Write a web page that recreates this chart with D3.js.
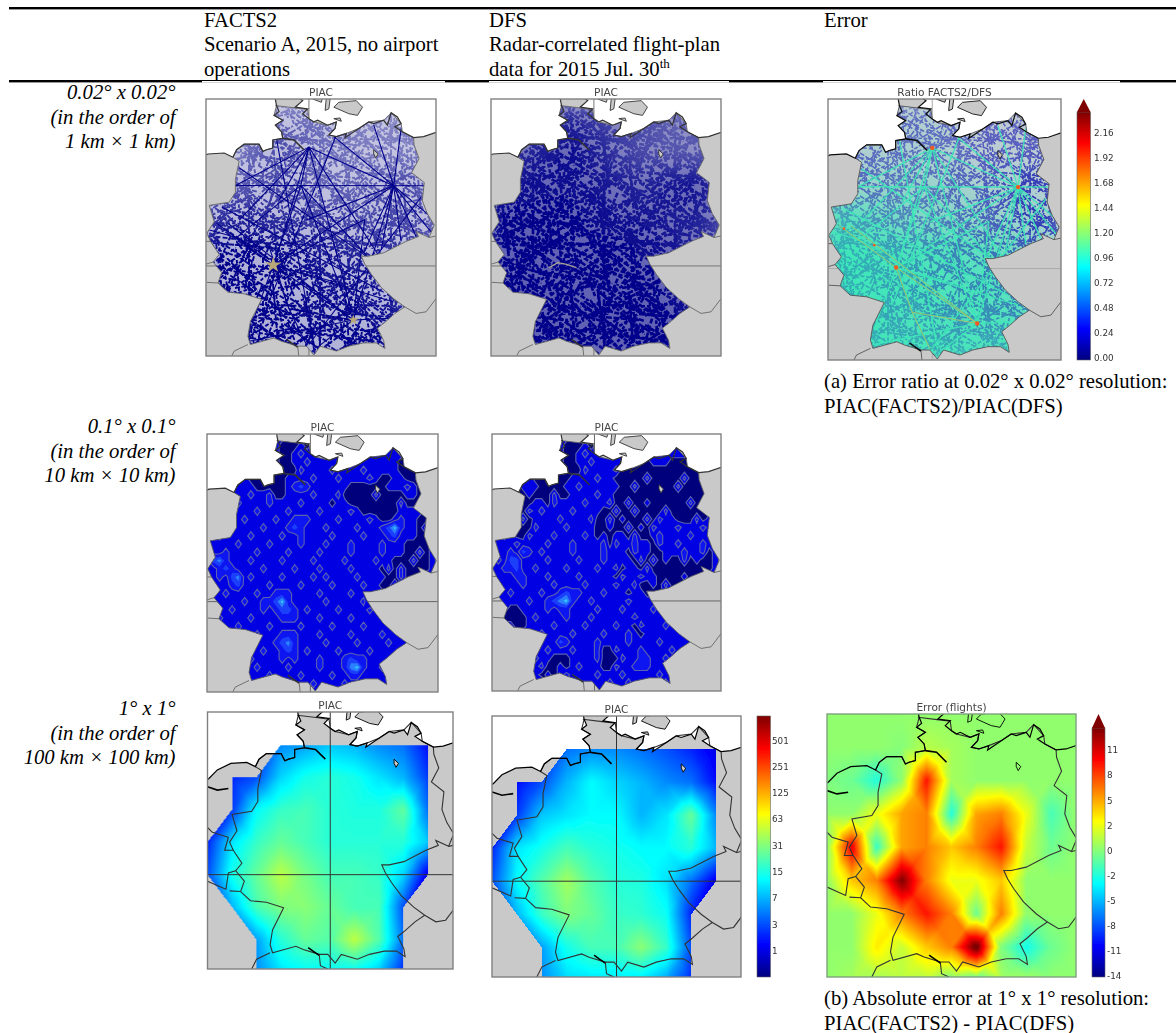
<!DOCTYPE html>
<html>
<head>
<meta charset="utf-8">
<script src="https://cdn.jsdelivr.net/npm/d3@7"></script>
<style>
  html, body { margin: 0; padding: 0; background: #fff; }
  svg { display: block; }
  .serif { font-family: "Liberation Serif", serif; fill: #000; }
  .sans { font-family: "DejaVu Sans", sans-serif; fill: #444; }
</style>
</head>
<body>
<div id="chart"></div>
<script>
const headers = [
  { x: 204, lines: ["FACTS2", "Scenario A, 2015, no airport", "operations"] },
  { x: 489, lines: ["DFS", "Radar-correlated flight-plan", "data for 2015 Jul. 30"] },
  { x: 824, lines: ["Error"] }
];
const rowLabels = [
  { y: 99, lines: ["0.02° x 0.02°", "(in the order of", "1 km × 1 km)"] },
  { y: 433, lines: ["0.1° x 0.1°", "(in the order of", "10 km × 10 km)"] },
  { y: 715, lines: ["1° x 1°", "(in the order of", "100 km × 100 km)"] }
];
const captions = [
  { y: 388, lines: ["(a) Error ratio at 0.02° x 0.02° resolution:", "PIAC(FACTS2)/PIAC(DFS)"] },
  { y: 1005, lines: ["(b) Absolute error at 1° x 1° resolution:", "PIAC(FACTS2) - PIAC(DFS)"] }
];

// map outlines, lon/lat
const germany = [[8.65,54.9],[9.42,54.83],[9.95,54.78],[10.0,54.5],[10.2,54.4],[10.75,54.3],[11.1,54.4],[11.05,54.2],[10.8,54.0],[11.1,53.95],[11.5,54.05],[12.0,54.2],[12.4,54.4],[13.0,54.45],[13.3,54.68],[13.7,54.35],[13.75,54.1],[14.2,53.92],[14.22,53.7],[14.42,53.28],[14.12,52.85],[14.63,52.55],[14.55,52.0],[14.75,51.6],[15.03,51.25],[14.82,50.87],[14.3,51.05],[14.4,50.9],[13.9,50.75],[13.0,50.4],[12.4,50.3],[12.1,50.3],[12.25,50.05],[12.5,49.75],[12.9,49.35],[13.4,49.0],[13.85,48.75],[13.45,48.55],[13.05,48.28],[12.75,48.1],[13.0,47.72],[13.05,47.48],[12.7,47.65],[12.2,47.65],[11.6,47.55],[11.1,47.4],[10.45,47.55],[10.2,47.28],[9.9,47.55],[9.55,47.55],[8.9,47.7],[8.6,47.8],[7.65,47.6],[7.55,47.85],[7.65,48.3],[8.1,48.98],[7.4,49.15],[6.75,49.2],[6.35,49.48],[6.5,49.8],[6.15,50.12],[6.4,50.35],[6.05,50.75],[5.9,51.0],[6.2,51.35],[6.0,51.85],[6.8,51.95],[7.05,52.25],[7.05,52.65],[7.2,53.2],[6.95,53.32],[7.1,53.55],[7.4,53.72],[8.0,53.72],[8.15,53.5],[8.3,53.55],[8.55,53.6],[8.55,53.85],[8.95,53.9],[8.9,54.1],[8.65,54.3],[8.95,54.45],[8.6,54.6],[8.7,54.9]];
const northSeaCoast = [[4.8,52.85],[5.05,52.95],[5.4,53.22],[5.95,53.42],[6.6,53.45],[6.95,53.32],[7.1,53.55],[7.4,53.72],[8.0,53.72],[8.15,53.5],[8.3,53.55],[8.55,53.6],[8.55,53.85],[8.95,53.9],[8.9,54.1],[8.65,54.3],[8.95,54.45],[8.6,54.6],[8.8,54.72],[8.7,54.9],[8.65,55.1],[8.45,55.45],[8.2,55.6]];
const balticCoast = [[9.5,55.6],[9.7,55.4],[9.5,55.2],[9.75,55.05],[9.45,54.85],[9.95,54.8],[9.75,54.65],[10.0,54.5],[10.2,54.4],[10.35,54.45],[10.75,54.3],[11.1,54.4],[11.05,54.2],[10.8,54.0],[11.1,53.95],[11.5,54.05],[11.45,53.92],[12.0,54.2],[12.4,54.4],[12.6,54.35],[13.0,54.45],[13.15,54.3],[13.3,54.68],[13.55,54.55],[13.7,54.35],[13.45,54.25],[13.75,54.1],[14.2,53.92],[14.6,53.95],[15.5,54.18]];
const islands = [
  [[11.0,54.85],[11.6,54.65],[11.95,54.6],[12.15,54.85],[11.9,55.05],[11.2,55.0],[11.0,54.85]],
  [[10.65,54.75],[10.8,54.8],[10.85,55.1],[10.7,55.15],[10.65,54.75]],
  [[10.15,55.1],[10.5,55.0],[10.55,55.15],[10.2,55.3],[10.15,55.1]],
  [[12.6,53.55],[12.78,53.42],[12.68,53.3],[12.6,53.42],[12.6,53.55]],
  [[11.0,54.5],[11.3,54.42],[11.25,54.52],[11.0,54.5]]
];
const thickWater = [
  [[8.95,53.9],[9.4,53.85],[9.8,53.55]],
  [[9.1,47.76],[9.3,47.65],[9.55,47.52]],
  [[5.0,52.7],[5.4,52.6],[5.85,52.65]]
];
const otherBorders = [
  [[6.05,50.75],[5.7,50.75],[5.85,51.15],[5.2,51.3],[5.0,51.45]],
  [[6.15,50.12],[5.85,50.05],[5.75,49.55],[5.0,49.8]],
  [[6.35,49.48],[5.9,49.5]],
  [[7.55,47.6],[7.0,47.4],[6.8,47.1]],
  [[9.55,47.55],[9.6,47.2],[9.9,47.1]],
  [[14.82,50.87],[15.3,50.95]],
  [[13.85,48.75],[14.3,48.55],[14.7,48.6],[15.1,49.0]]
];

// main flight routes seen in the 0.02 deg panels, [lon, lat] to [lon, lat]
const routes = [
  [[10.0,53.63],[6.9,52.4]], [[10.0,53.63],[7.2,51.4]], [[10.0,53.63],[8.6,50.03]], [[10.0,53.63],[9.68,52.46]],
  [[10.0,53.63],[12.9,50.2]], [[10.0,53.63],[11.8,48.35]], [[10.0,53.63],[13.4,52.45]], [[10.0,53.63],[8.8,52.0]],
  [[6.8,52.46],[15.0,52.45]], [[9.68,52.46],[13.2,49.6]], [[9.68,52.46],[11.78,48.35]], [[9.68,52.46],[7.1,50.87]], [[9.68,52.46],[8.57,50.03]],
  [[13.4,52.45],[15.0,50.95]], [[13.4,52.45],[14.9,51.5]], [[13.4,52.45],[14.3,50.9]], [[13.4,52.45],[13.7,50.75]], [[13.4,52.45],[12.9,50.5]],
  [[13.4,52.45],[12.2,50.4]], [[13.4,52.45],[11.0,53.95]], [[13.4,52.45],[12.6,54.3]], [[13.4,52.45],[13.7,54.2]], [[13.4,52.45],[8.57,50.03]],
  [[13.4,52.45],[11.78,48.35]], [[13.4,52.45],[9.9,51.4]], [[8.57,50.03],[6.3,51.3]], [[8.57,50.03],[11.78,48.35]], [[8.57,50.03],[13.4,48.9]],
  [[8.57,50.03],[9.2,48.69]], [[8.57,50.03],[7.7,48.2]], [[8.57,50.03],[12.24,51.42]], [[8.57,50.03],[11.07,49.5]], [[6.77,51.29],[11.78,48.35]],
  [[11.78,48.35],[9.2,48.69]], [[11.78,48.35],[12.24,51.42]], [[11.78,48.35],[7.6,47.7]], [[11.78,48.35],[13.2,48.4]], [[11.78,48.35],[10.3,47.5]],
  [[7.1,50.87],[6.0,51.1]], [[7.1,50.87],[8.0,50.5]], [[9.2,48.69],[8.4,50.6]], [[9.2,48.69],[9.9,47.6]], [[6.5,51.8],[13.0,49.2]],
  [[7.2,53.0],[12.3,50.3]], [[8.6,54.3],[10.2,47.6]], [[11.1,54.0],[8.4,48.9]], [[14.5,52.1],[10.0,47.6]]
];
const orangeRoutes = [26, 28, 25, 32, 33, 41];
const hubs = [[10.0,53.63],[13.4,52.45],[8.57,50.03],[11.78,48.35],[6.5,51.2],[7.7,50.7]];

// share of cells crossed by tracks, 1 deg boxes, north to south, lon 6..15
const factsDensity = [
  [.3,.3,.35,.5,.45,.45,.35,.35,.35,.35],
  [.35,.4,.55,.65,.5,.45,.4,.4,.4,.4],
  [.45,.55,.6,.65,.55,.5,.5,.6,.65,.45],
  [.75,.8,.8,.75,.7,.65,.6,.65,.65,.55],
  [1,1,1,.95,.9,.85,.8,.8,.7,.55],
  [1,1,1,1,.95,.9,.9,.8,.6,.55],
  [.95,1,1,1,.95,.95,.95,.95,.8,.55],
  [.85,.95,1,1,1,1,1,1,.8,.55]
];
const dfsDensity = [
  [.5,.5,.6,.85,.7,.6,.6,.5,.5,.5],
  [.7,.8,.85,.95,.85,.7,.6,.55,.55,.5],
  [.85,.9,.95,.95,.9,.85,.8,.9,.9,.8],
  [1,1,1,1,.95,.9,.9,.85,.85,.7],
  [1,1,1,1,1,1,.95,.9,.8,.7],
  [1,1,1,1,1,1,1,.95,.8,.7],
  [1,1,1,1,1,1,1,1,.9,.7],
  [1,1,1,1,1,1,1,1,.9,.7]
];
const ratioCover = [
  [.1,.1,.12,.15,.15,.1,.05,.05,.05,.05],
  [.15,.15,.2,.2,.2,.15,.08,.08,.08,.05],
  [.3,.3,.3,.35,.3,.25,.2,.2,.15,.1],
  [.85,.8,.65,.55,.5,.45,.35,.3,.25,.2],
  [1,1,.95,.9,.85,.8,.75,.65,.45,.3],
  [1,1,.95,.95,.9,.85,.85,.75,.6,.3],
  [1,1,.95,.9,.9,.85,.85,.85,.75,.4],
  [1,1,.95,.95,.95,.95,.9,.9,.8,.5]
];
const ratioBlue = [
  [.55,.55,.55,.55,.5,.55,.55,.55,.55,.55],
  [.55,.55,.5,.5,.5,.5,.6,.6,.6,.6],
  [.5,.55,.5,.45,.5,.55,.6,.7,.85,.65],
  [.25,.3,.4,.4,.45,.5,.55,.65,.85,.7],
  [.25,.25,.3,.35,.4,.45,.5,.55,.6,.6],
  [.25,.25,.3,.35,.4,.45,.45,.5,.55,.6],
  [.25,.25,.3,.3,.35,.4,.4,.4,.45,.5],
  [.2,.2,.25,.25,.25,.25,.25,.25,.35,.45]
];

// PIAC classes on a 0.25 deg reading of the 0.1 deg panels, north to south
const factsFine = [
  "1111111111111100011111111111111111111",
  "1111111111110001011111111111111111111",
  "1111111111110012111211111111111111111",
  "1111111111110011211111211111111000111",
  "1121111211100002111121111211111000011",
  "1111111000000111121112111121001100001",
  "1110011100000123211111100000011121001",
  "1121111211200111121112000002000011001",
  "2111121111211112111101100000000200101",
  "1112111121111211112111121000000111101",
  "1211112111121122211112111121001211001",
  "1111211112111232111211112111235211021",
  "1121111211112112111121111211123111001",
  "2111121111211112111211121111211100001",
  "1112111121111211112111121111211100201",
  "1342111211112111121111211112110002001",
  "1123211112111121112111121111020200001",
  "1121341211112111121211112111100200111",
  "2111231111211112111121111211002011101",
  "1112111121122211112111121111100011111",
  "1211112112235211111211111201111111111",
  "1111211112123321211112111121111111111",
  "1121111211112221112111121111111111111",
  "2111121111211112111121111211111111111",
  "1112111121112221112111121111211111111",
  "1211112111123421111211112111121111111",
  "1111111112112321211112111121111111111",
  "1111111211112121112111232211111111111",
  "1111111121111211112111245211211111111",
  "1111111111211112111121122111111111111",
  "1111111211112111121111211112111111111",
  "1111111112111121111211112111111111111"
];
const dfsFine = [
  "1111111111111000011111111111111111111",
  "1111111111110001011111111111111111111",
  "1111111111110012111211111111111101111",
  "1111111111110011211111000011100000011",
  "1121111211000002111120000000000000001",
  "1111111000000111121100000200000200001",
  "1110011100001121111110020000002000001",
  "1121001000200111121100000000000000001",
  "1100100110211112111200200100000020001",
  "1100002121111211110020020000200000001",
  "1000020111121111200201000202110002011",
  "1000100211112111100100201021112111211",
  "1101002111211112101011020012111121111",
  "2111211112111211112021121102112111211",
  "1112132121111211112111021100111211201",
  "1213311112111121112111102020100201001",
  "1122311211112111121120110200000000001",
  "1111221112111121111102112110000100111",
  "2111121111211112111121120010200011111",
  "1112111121123221112111011000111111111",
  "1211112112345211211111211111111111111",
  "1210011112122111121112111121111111111",
  "1100001211112111211111121111111111111",
  "2111001111211112111121102111211111111",
  "1112111121111211112111210111111111111",
  "1211112111132111121111211112111111111",
  "1111111112111211120021112111121111111",
  "1111111211000111120002112211211111111",
  "1111111120010121110021122211111111111",
  "1111111101012111121112111112111111111",
  "1111111120111121111211211111211111111",
  "1111111112111111211111111211111111111"
];

// flights on the 1 deg grid, lat 54 down to 47, lon 5..14, null = no data
const factsCoarse = [
  [null,null,null,5,6,8,7,5,4,1.5],
  [null,2,3,9,14,16,14,10,7,2.5],
  [null,2.5,12,18,20,16,15,15,24,4],
  [2,10,18,25,20,16,16,16,16,8],
  [3,14,25,45,28,20,20,18,9,1],
  [null,7,20,30,32,25,20,20,3,null],
  [null,null,6,16,25,22,45,22,4,null],
  [null,null,5,10,12,12,12,8,2,null]
];
const dfsCoarse = [
  [null,null,null,4,5,5,4,3,2,1],
  [null,1.5,3,7,12,9,7,5,4,1.5],
  [null,2.5,8,10,12,12,7,10,25,5],
  [2,10,14,20,16,14,12,12,16,7],
  [3,12,22,38,22,16,15,10,4,1],
  [null,7,18,30,25,18,17,13,2,null],
  [null,null,6,14,20,20,32,18,3,null],
  [null,null,5,9,10,10,10,6,2,null]
];
// flight difference, lat 55 down to 47, lon 5..15
const errorCoarse = [
  [.5,.5,.5,.5,.5,.5,.5,.5,.5,.5,.5],
  [.5,.5,.5,.2,1.5,1,.5,.5,.5,.5,.5],
  [0,-.5,-2.5,.5,10,1,.5,.5,.5,.5,.5],
  [.5,.5,3,6,7,-2.5,6,7,3,-1.5,.5],
  [.5,11,-2,6,7,5,7,10,2,-.5,.5],
  [.5,5,7,14,7,3,3,5,.5,.5,.5],
  [.5,.5,3,7,10,7,-.5,7,.5,.5,.5],
  [.5,.5,4,2,5,7,15,0,-3,-.5,.5],
  [.5,1,1,1.5,1.5,-.5,-1.5,1,1,.5,.5]
];

const ratioTicks = [0, 0.24, 0.48, 0.72, 0.96, 1.20, 1.44, 1.68, 1.92, 2.16];
const flightTicks = [1, 3, 7, 15, 31, 63, 125, 251, 501];
const errorTicks = [-14, -11, -8, -5, -2, 0, 2, 5, 8, 11];

const fineLon = [5.87, 15.1], fineLat = [47.25, 55.1];
const coarseLon = [5, 15], coarseLat = [47.1, 55];
const jetColors = ["#00007f", "#0000ff", "#007fff", "#00ffff", "#7fff7f", "#ffff00", "#ff7f00", "#ff0000", "#7f0000"];
const jet = d3.scaleLinear().domain(d3.range(9).map(i => i / 8)).range(jetColors).clamp(true);
const classColors = ["#00007d", "#0404e2", "#0e12f0", "#1a40fa", "#2a80ff", "#30c8ff"];
const ratioTeal = "#3de6b8";

const svg = d3.select("#chart").append("svg").attr("width", 1176).attr("height", 1033);
const defs = svg.append("defs");

const blur = defs.append("filter").attr("id", "soft").attr("x", "-5%").attr("y", "-5%").attr("width", "110%").attr("height", "110%");
blur.append("feGaussianBlur").attr("stdDeviation", 0.55);
const softer = defs.append("filter").attr("id", "softer").attr("x", "-5%").attr("y", "-5%").attr("width", "110%").attr("height", "110%");
softer.append("feGaussianBlur").attr("stdDeviation", 0.7);
const wideBlur = defs.append("filter").attr("id", "wide");
wideBlur.append("feGaussianBlur").attr("stdDeviation", 11);

// speckle tiles, only a fill texture for the track panels
const tiles = [
  { size: 43, dash: "5 1.4", segs: [[0,8,43,20],[0,24,30,43],[12,0,43,33],[0,36,10,43],[25,0,43,12],[5,0,5,14],[30,22,36,38],[0,15,18,3],[20,30,43,26],[6,43,16,20]] },
  { size: 59, dash: "4 1.8", segs: [[0,50,59,12],[0,20,32,0],[20,59,59,30],[8,0,20,59],[40,0,52,59],[0,34,59,44],[30,10,59,20],[0,5,22,34],[34,59,59,48]] },
  { size: 71, dash: "6 1.6", segs: [[0,10,71,60],[0,40,44,71],[30,0,71,28],[0,66,71,22],[12,0,0,22],[54,71,71,48],[36,0,36,71],[0,30,71,36],[18,71,50,0],[60,0,66,71]] },
  { size: 83, dash: "3.5 2", segs: [[0,70,83,40],[0,25,60,83],[22,0,83,62],[47,0,0,42],[83,5,40,83],[10,83,30,0],[0,55,83,58],[70,0,76,83]] },
  { size: 97, dash: "5 2.2", segs: [[0,14,97,80],[0,58,60,97],[40,0,97,44],[0,90,97,30],[78,0,50,97],[16,0,28,97],[0,40,97,52],[60,0,0,30],[97,66,66,97]] }
];
function addTiles(name, color, width) {
  tiles.forEach((t, i) => {
    const p = defs.append("pattern").attr("id", name + i).attr("patternUnits", "userSpaceOnUse")
      .attr("width", t.size).attr("height", t.size);
    p.selectAll("line").data(t.segs).join("line")
      .attr("x1", d => d[0]).attr("y1", d => d[1]).attr("x2", d => d[2]).attr("y2", d => d[3])
      .attr("stroke", color).attr("stroke-width", width).attr("stroke-dasharray", t.dash);
  });
}
addTiles("navy", "#00008b", 1.9);
addTiles("navyB", "#00008b", 2.6);
addTiles("ratio", "#1414b0", 1.6);

let panelId = 0;
function makePanel(x0, y0, w, h, lonDom, latDom, title, filter) {
  const id = "p" + (panelId++);
  const x = d3.scaleLinear().domain(lonDom).range([x0, x0 + w]);
  const y = d3.scaleLinear().domain(latDom).range([y0 + h, y0]);
  const line = d3.line().x(d => x(d[0])).y(d => y(d[1]));
  const g = svg.append("g").attr("filter", `url(#${filter || "soft"})`);
  defs.append("clipPath").attr("id", id).append("rect").attr("x", x0).attr("y", y0).attr("width", w).attr("height", h);
  defs.append("clipPath").attr("id", id + "de").append("path").attr("d", line(germany) + "Z");
  const inner = g.append("g").attr("clip-path", `url(#${id})`);
  g.append("text").attr("class", "sans").attr("x", x0 + w / 2).attr("y", y0 - 3.5)
    .attr("text-anchor", "middle").attr("font-size", 10.6).text(title);
  return { id, x, y, line, g, inner, x0, y0, w, h };
}

function drawBase(p) {
  p.inner.append("rect").attr("x", p.x0).attr("y", p.y0).attr("width", p.w).attr("height", p.h).attr("fill", "#c9c9c9");
  p.inner.append("path").attr("fill", "#fff")
    .attr("d", p.line(northSeaCoast.concat([[8.2,56],[3,56],[3,52.85]])) + "Z");
  p.inner.append("path").attr("fill", "#fff")
    .attr("d", p.line(balticCoast.concat([[15.5,56],[9.5,56]])) + "Z");
}
function drawGrid(p, color) {
  p.inner.append("line").attr("x1", p.x0).attr("x2", p.x0 + p.w).attr("y1", p.y(50)).attr("y2", p.y(50))
    .attr("stroke", color).attr("stroke-width", 1);
  p.inner.append("line").attr("y1", p.y0).attr("y2", p.y0 + p.h).attr("x1", p.x(10)).attr("x2", p.x(10))
    .attr("stroke", color).attr("stroke-width", 1);
}
function drawLines(p, coast, border, borderWidth) {
  const layer = p.inner.append("g").attr("fill", "none");
  layer.selectAll("path.b").data(otherBorders.concat([germany])).join("path").attr("class", "b")
    .attr("d", p.line).attr("stroke", border).attr("stroke-width", borderWidth || 0.9);
  layer.selectAll("path.c").data([northSeaCoast, balticCoast]).join("path").attr("class", "c")
    .attr("d", p.line).attr("stroke", coast).attr("stroke-width", 1.2);
  layer.selectAll("path.i").data(islands).join("path").attr("class", "i")
    .attr("d", p.line).attr("fill", "#c9c9c9").attr("stroke", coast).attr("stroke-width", 0.9);
  layer.selectAll("path.w").data(thickWater).join("path").attr("class", "w")
    .attr("d", p.line).attr("stroke", coast).attr("stroke-width", 1.6);
}
function drawFrame(p, color) {
  p.g.append("rect").attr("x", p.x0).attr("y", p.y0).attr("width", p.w).attr("height", p.h)
    .attr("fill", "none").attr("stroke", color).attr("stroke-width", 1.4);
}

// blurred white mask built from one of the 1 deg density tables
function densityMask(p, name, table) {
  const m = defs.append("mask").attr("id", p.id + name).attr("maskUnits", "userSpaceOnUse")
    .attr("x", p.x0).attr("y", p.y0).attr("width", p.w).attr("height", p.h);
  const cells = table.flatMap((row, r) => row.map((v, c) => ({ lon: 5.5 + c, lat: 55 - r, v })));
  m.append("g").attr("filter", "url(#wide)").selectAll("rect").data(cells).join("rect")
    .attr("x", d => p.x(d.lon)).attr("y", d => p.y(d.lat))
    .attr("width", p.x(1) - p.x(0) + 1).attr("height", p.y(0) - p.y(1) + 1)
    .attr("fill", "#fff").attr("fill-opacity", d => d.v);
  return `url(#${p.id + name})`;
}

function trackPanel(p, table, tileName, overlay, fill, showRoutes) {
  drawBase(p);
  drawGrid(p, "#777");
  const g = p.inner.append("g").attr("clip-path", `url(#${p.id}de)`);
  g.append("rect").attr("x", p.x0).attr("y", p.y0).attr("width", p.w).attr("height", p.h).attr("fill", fill);
  const tex = g.append("g").attr("mask", densityMask(p, "m", table));
  tiles.forEach((t, i) => {
    tex.append("rect").attr("x", p.x0).attr("y", p.y0).attr("width", p.w).attr("height", p.h)
      .attr("fill", `url(#${tileName}${i})`);
  });
  tex.append("rect").attr("x", p.x0).attr("y", p.y0).attr("width", p.w).attr("height", p.h)
    .attr("fill", "#00008b").attr("fill-opacity", overlay);
  if (showRoutes) {
    g.selectAll("path.route").data(routes).join("path").attr("class", "route").attr("d", p.line)
      .attr("fill", "none").attr("stroke", "#00008b").attr("stroke-width", 1.1);
    g.selectAll("path.star").data(hubs.slice(2, 4)).join("path").attr("class", "star")
      .attr("transform", d => `translate(${p.x(d[0])},${p.y(d[1])})`)
      .attr("d", (d, i) => d3.symbol(d3.symbolStar, i ? 35 : 80)())
      .attr("fill", "#b8a878");
  } else {
    g.append("path").attr("d", p.line([[8.2,49.95],[8.55,50.1],[8.9,50.05],[9.3,49.95]]))
      .attr("fill", "none").attr("stroke", "#a9a590").attr("stroke-width", 1.2);
  }
  drawLines(p, "#333", "#666");
  drawFrame(p, "#808080");
}

function contourPanel(p, rows) {
  drawBase(p);
  drawGrid(p, "#666");
  const nx = 37, ny = rows.length;
  const values = rows.flatMap(r => r.padEnd(nx, "1").slice(0, nx).split("").map(Number));
  const levels = [0.5, 1.5, 2.5, 3.5, 4.5];
  const contours = d3.contours().size([nx, ny]).thresholds(levels)(values);
  const path = d3.geoPath(d3.geoTransform({
    point(gx, gy) { this.stream.point(p.x(5.875 + 0.25 * (gx - 0.5)), p.y(55 - 0.25 * (gy - 0.5))); }
  }));
  const g = p.inner.append("g").attr("clip-path", `url(#${p.id}de)`);
  g.append("rect").attr("x", p.x0).attr("y", p.y0).attr("width", p.w).attr("height", p.h).attr("fill", classColors[0]);
  g.selectAll("path").data(contours).join("path").attr("d", path)
    .attr("fill", (d, i) => classColors[i + 1])
    .attr("stroke", (d, i) => i < 2 ? "#5b63ac" : "none").attr("stroke-width", 1.1);
  drawLines(p, "#333", "#666");
  drawFrame(p, "#808080");
}

// shades a lon/lat grid the way a triangulated contourf looks: four triangles
// per full box around its mean, one triangle where a corner has no data
function shadeGrid(p, table, lon0, latTop, toT) {
  const nodes = table.slice().reverse().map(row => row.map(v => v === null ? null : toT(v)));
  const lat0 = latTop - nodes.length + 1;
  const canvas = document.createElement("canvas");
  canvas.width = Math.round(p.w); canvas.height = Math.round(p.h);
  const ctx = canvas.getContext("2d");
  const img = ctx.createImageData(canvas.width, canvas.height);
  for (let py = 0; py < canvas.height; py++) {
    for (let px = 0; px < canvas.width; px++) {
      const lon = p.x.invert(p.x0 + px + 0.5), lat = p.y.invert(p.y0 + py + 0.5);
      const i = Math.floor(lon - lon0), j = Math.floor(lat - lat0);
      const cellRow = nodes[j], upRow = nodes[j + 1];
      if (!cellRow || !upRow || i < 0 || i + 1 >= cellRow.length) continue;
      const a = cellRow[i], b = cellRow[i + 1], c = upRow[i + 1], d = upRow[i];
      const u = lon - lon0 - i, v = lat - lat0 - j;
      const missing = [a, b, c, d].filter(n => n === null).length;
      let t = null;
      if (missing === 0) {
        const m = (a + b + c + d) / 4;
        const tri = (n1, n2, s, r) => n1 * (1 - s - r) + n2 * (s - r) + m * 2 * r;
        if (v <= u && v <= 1 - u) t = tri(a, b, u, v);
        else if (v <= u) t = tri(b, c, v, 1 - u);
        else if (v <= 1 - u) t = tri(d, a, 1 - v, u);
        else t = tri(c, d, 1 - u, 1 - v);
      } else if (missing === 1) {
        if (a === null && u + v >= 1) t = c * (u + v - 1) + b * (1 - v) + d * (1 - u);
        if (b === null && v >= u) t = a * (1 - v) + d * (v - u) + c * u;
        if (c === null && u + v <= 1) t = a * (1 - u - v) + b * u + d * v;
        if (d === null && v <= u) t = a * (1 - u) + b * (u - v) + c * v;
      }
      if (t === null) continue;
      const col = d3.rgb(jet(t));
      const k = (py * canvas.width + px) * 4;
      img.data[k] = col.r; img.data[k + 1] = col.g; img.data[k + 2] = col.b; img.data[k + 3] = 255;
    }
  }
  ctx.putImageData(img, 0, 0);
  p.inner.append("image").attr("x", p.x0).attr("y", p.y0).attr("width", p.w).attr("height", p.h)
    .attr("href", canvas.toDataURL());
}

function colorbar(x0, x1, top, shoulder, bottom, tip) {
  const id = "bar" + x0;
  const grad = defs.append("linearGradient").attr("id", id).attr("x1", 0).attr("x2", 0).attr("y1", 1).attr("y2", 0);
  grad.selectAll("stop").data(jetColors).join("stop")
    .attr("offset", (d, i) => i / 8).attr("stop-color", d => d);
  const g = svg.append("g").attr("filter", "url(#soft)");
  g.append("rect").attr("x", x0).attr("y", shoulder).attr("width", x1 - x0).attr("height", bottom - shoulder)
    .attr("fill", `url(#${id})`).attr("stroke", "#666").attr("stroke-width", 0.6);
  if (tip) {
    g.append("path").attr("d", `M${x0},${shoulder}L${(x0 + x1) / 2},${top}L${x1},${shoulder}Z`).attr("fill", "#7f0000");
  }
  return g;
}
function barAxis(g, x, scale, values, fmt) {
  const ax = g.append("g").attr("transform", `translate(${x},0)`)
    .call(d3.axisRight(scale).tickValues(values).tickSize(0).tickPadding(0).tickFormat(fmt));
  ax.select(".domain").remove();
  ax.selectAll("text").attr("font-family", "DejaVu Sans").attr("font-size", 8.8).attr("fill", "#333");
}

// row 1
const p1 = makePanel(206, 99, 230, 257, fineLon, fineLat, "PIAC", "softer");
trackPanel(p1, factsDensity, "navy", 0.15, "#d0d1e6", true);
const p2 = makePanel(491, 99, 230, 257, fineLon, fineLat, "PIAC", "softer");
trackPanel(p2, dfsDensity, "navyB", 0.5, "#c4c5dc", false);

const p3 = makePanel(828, 99, 233, 261, fineLon, fineLat, "Ratio FACTS2/DFS", "softer");
drawBase(p3);
drawGrid(p3, "#aaa");
const ratioClip = p3.inner.append("g").attr("clip-path", `url(#${p3.id}de)`);
ratioClip.append("rect").attr("x", 828).attr("y", 99).attr("width", 233).attr("height", 261).attr("fill", "#c8cad6");
ratioClip.append("rect").attr("x", 828).attr("y", 99).attr("width", 233).attr("height", 261)
  .attr("fill", ratioTeal).attr("mask", densityMask(p3, "c", ratioCover));
const ratioTex = ratioClip.append("g").attr("mask", densityMask(p3, "b", ratioBlue));
tiles.forEach((t, i) => ratioTex.append("rect").attr("x", 828).attr("y", 99).attr("width", 233).attr("height", 261)
  .attr("fill", `url(#ratio${i})`));
ratioClip.selectAll("path.route").data(routes).join("path").attr("class", "route").attr("d", p3.line)
  .attr("fill", "none").attr("stroke", ratioTeal).attr("stroke-width", 1.4).attr("stroke-opacity", 0.9);
ratioClip.selectAll("path.hot").data(orangeRoutes.map(i => routes[i])).join("path").attr("class", "hot").attr("d", p3.line)
  .attr("fill", "none").attr("stroke", "#f0a030").attr("stroke-width", 0.7).attr("stroke-opacity", 0.75);
ratioClip.selectAll("circle").data(hubs).join("circle")
  .attr("cx", d => p3.x(d[0])).attr("cy", d => p3.y(d[1])).attr("r", (d, i) => i < 4 ? 2.2 : 1.3).attr("fill", "#f05a20");
drawLines(p3, "#111", "#555");
drawFrame(p3, "#808080");

const ratioBar = colorbar(1077, 1090.5, 99, 112, 360, true);
barAxis(ratioBar, 1094, d3.scaleLinear().domain([0, 2.4]).range([358, 108]), ratioTicks, d3.format(".2f"));

// row 2
contourPanel(makePanel(207, 434, 231, 258, fineLon, fineLat, "PIAC"), factsFine);
contourPanel(makePanel(492, 434, 229, 257, fineLon, fineLat, "PIAC"), dfsFine);

// row 3
const flightT = v => Math.log2(v + 1) / 9.9;
const p6 = makePanel(207.5, 712, 245.5, 257, coarseLon, coarseLat, "PIAC");
drawBase(p6);
shadeGrid(p6, factsCoarse, 5, 54, flightT);
drawGrid(p6, "#333");
drawLines(p6, "#000", "#333", 1.1);
drawFrame(p6, "#808080");

const p7 = makePanel(492, 716, 249, 261, coarseLon, coarseLat, "PIAC");
drawBase(p7);
shadeGrid(p7, dfsCoarse, 5, 54, flightT);
drawGrid(p7, "#333");
drawLines(p7, "#000", "#333", 1.1);
drawFrame(p7, "#808080");

const flightBar = colorbar(757, 770.5, 716, 716, 977, false);
barAxis(flightBar, 772, d3.scaleLinear().domain([0, 9.9]).range([977, 716]),
  flightTicks.map(v => Math.log2(v + 1)), (d, i) => flightTicks[i]);

const p8 = makePanel(827, 714, 249, 263, coarseLon, coarseLat, "Error (flights)");
shadeGrid(p8, errorCoarse, 5, 55, v => (v + 14) / 28);
drawLines(p8, "#000", "#333", 1.1);
p8.inner.selectAll("path.i").attr("fill", "none");
drawFrame(p8, "#7fa07f");

const errorBar = colorbar(1092, 1105, 714, 728, 977, true);
barAxis(errorBar, 1107, d3.scalePoint().domain(errorTicks).range([976, 750]), errorTicks, d => d);

// table rules: the pasted maps cover most of the lower line
const rules = [[9, 7, 1167, 2.4], [9, 80, 1167, 2.4]];
svg.selectAll("rect.rule").data(rules).join("rect").attr("class", "rule")
  .attr("x", d => d[0]).attr("y", d => d[1]).attr("width", d => d[2]).attr("height", d => d[3]).attr("fill", "#000");
const ruleGaps = [[202, 243], [489, 240], [823, 297]];
svg.selectAll("rect.gap").data(ruleGaps).join("rect").attr("class", "gap")
  .attr("x", d => d[0]).attr("y", 81).attr("width", d => d[1]).attr("height", 1.6).attr("fill", "#fff");

// text
const fs = 20.7, lh = 24.5;
headers.forEach(h => {
  h.lines.forEach((t, i) => {
    const txt = svg.append("text").attr("class", "serif").attr("x", h.x).attr("y", 26.5 + i * lh).attr("font-size", fs).text(t);
    if (t.endsWith("30")) txt.append("tspan").attr("dy", -8).attr("font-size", 13).text("th");
  });
});
rowLabels.forEach(r => {
  r.lines.forEach((t, i) => {
    svg.append("text").attr("class", "serif").attr("x", 175.5).attr("y", r.y + i * lh)
      .attr("text-anchor", "end").attr("font-style", "italic").attr("font-size", fs).text(t);
  });
});
captions.forEach(c => {
  c.lines.forEach((t, i) => {
    svg.append("text").attr("class", "serif").attr("x", 824).attr("y", c.y + i * lh)
      .attr("font-size", fs).text(t);
  });
});
</script>
</body>
</html>
